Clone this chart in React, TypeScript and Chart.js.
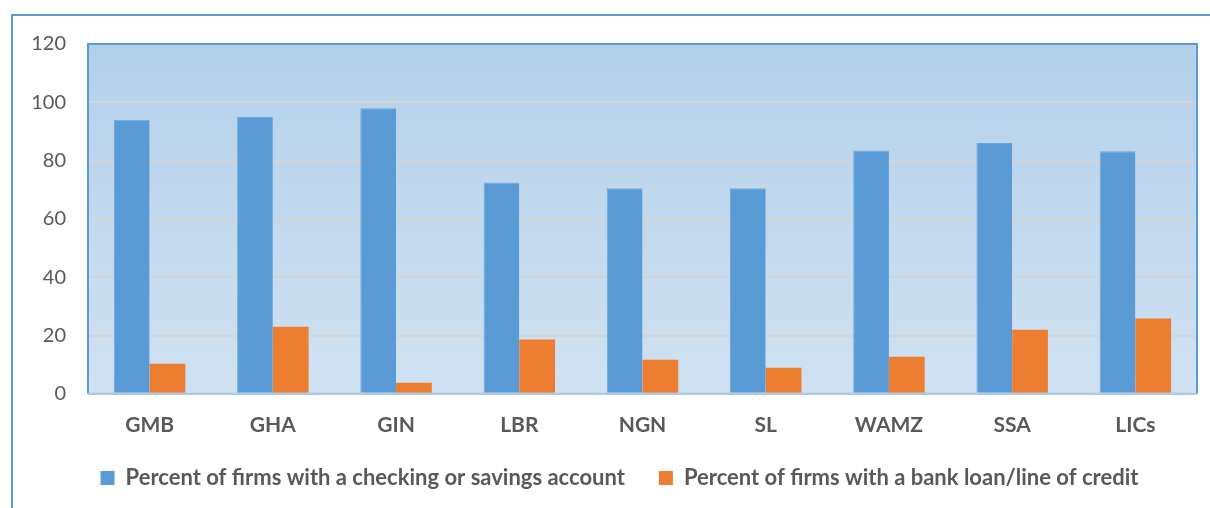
import React, { useEffect, useRef } from "react";
import { Chart, registerables } from "chart.js";

Chart.register(...registerables);

const categories = ["GMB", "GHA", "GIN", "LBR", "NGN", "SL", "WAMZ", "SSA", "LICs"];
const accountValues = [94, 95, 98, 72.5, 70.5, 70.5, 83.5, 86, 83.2];
const loanValues = [10.3, 23, 3.8, 18.6, 11.7, 8.9, 12.7, 22, 25.8];
const seriesNames = [
  "Percent of firms with a checking or savings account",
  "Percent of firms with a bank loan/line of credit",
];
const yTicks = [0, 20, 40, 60, 80, 100, 120];

const FONT = "Lato, 'Open Sans', sans-serif";

const framePlugin = {
  id: "framePlugin",
  afterLayout(chart: any) {
    const lg = chart.legend;
    if (lg) {
      lg.left += 15;
      lg.right += 15;
      lg.top -= 16;
      lg.bottom -= 16;
    }
  },
  beforeDraw(chart: any) {
    const { ctx, chartArea } = chart;
    const { left, top, right, bottom } = chartArea;
    ctx.save();
    ctx.strokeStyle = "#5b9bd5";
    ctx.lineWidth = 2;
    ctx.beginPath();
    ctx.moveTo(12, 520);
    ctx.lineTo(12, 15);
    ctx.lineTo(1220, 15);
    ctx.stroke();
    const g = ctx.createLinearGradient(0, top, 0, bottom);
    g.addColorStop(0, "#b3d0ea");
    g.addColorStop(1, "#d0e2f2");
    ctx.fillStyle = g;
    ctx.fillRect(left, top, right - left, bottom - top);
    ctx.restore();
  },
  afterDatasetsDraw(chart: any) {
    const { ctx, chartArea } = chart;
    const { left, top, right, bottom } = chartArea;
    ctx.save();
    ctx.strokeStyle = "#5b9bd5";
    ctx.lineWidth = 2;
    ctx.beginPath();
    ctx.moveTo(left, bottom);
    ctx.lineTo(left, top);
    ctx.lineTo(right, top);
    ctx.lineTo(right, bottom);
    ctx.stroke();
    ctx.strokeStyle = "#a9c8e6";
    ctx.beginPath();
    ctx.moveTo(left, bottom);
    ctx.lineTo(right, bottom);
    ctx.stroke();
    ctx.restore();
  },
};

export default function App() {
  const ref = useRef<HTMLCanvasElement>(null);
  useEffect(() => {
    if (!ref.current) return;
    const chart = new Chart(ref.current, {
      type: "bar",
      data: {
        labels: categories,
        datasets: [
          {
            label: seriesNames[0],
            data: accountValues,
            backgroundColor: "#5b9bd5",
            borderColor: "#6ea7dc",
            borderWidth: { left: 1, right: 0, top: 1, bottom: 0 },
            categoryPercentage: 0.58,
            barPercentage: 1,
          },
          {
            label: seriesNames[1],
            data: loanValues,
            backgroundColor: "#ed7d31",
            borderWidth: 0,
            categoryPercentage: 0.58,
            barPercentage: 1,
          },
        ],
      },
      options: {
        responsive: false,
        animation: false,
        layout: { padding: { left: 12, right: 13, top: 44, bottom: -7 } },
        plugins: {
          tooltip: { enabled: false },
          legend: {
            position: "bottom",
            labels: {
              color: "#595959",
              font: { family: FONT, size: 22, weight: "bold" },
              boxWidth: 14,
              boxHeight: 14,
              padding: 34,
              useBorderRadius: false,
              generateLabels: (chart: any) =>
                chart.data.datasets.map((ds: any, i: number) => ({
                  text: ds.label,
                  fillStyle: ds.backgroundColor,
                  strokeStyle: ds.backgroundColor,
                  lineWidth: 0,
                  fontColor: "#595959",
                  datasetIndex: i,
                  hidden: false,
                })),
            },
          },
        },
        scales: {
          x: {
            grid: { display: false },
            border: { display: false },
            ticks: {
              color: "#595959",
              font: { family: FONT, size: 21, weight: "bold" },
              padding: 11,
            },
          },
          y: {
            min: 0,
            max: 120,
            afterBuildTicks: (scale: any) => {
              scale.ticks = yTicks.map((v) => ({ value: v }));
            },
            afterFit: (scale: any) => {
              scale.width = 76;
            },
            grid: { color: "#d4d4d4", lineWidth: 2, drawTicks: false },
            border: { display: false },
            ticks: {
              color: "#595959",
              font: { family: FONT, size: 20 },
              padding: 22,
            },
          },
        },
      },
      plugins: [framePlugin],
    });
    return () => chart.destroy();
  }, []);
  return (
    <div style={{ position: "absolute", left: 0, top: 0, width: 1210, height: 508, background: "#fff" }}>
      <canvas ref={ref} width={1210} height={508} />
    </div>
  );
}
